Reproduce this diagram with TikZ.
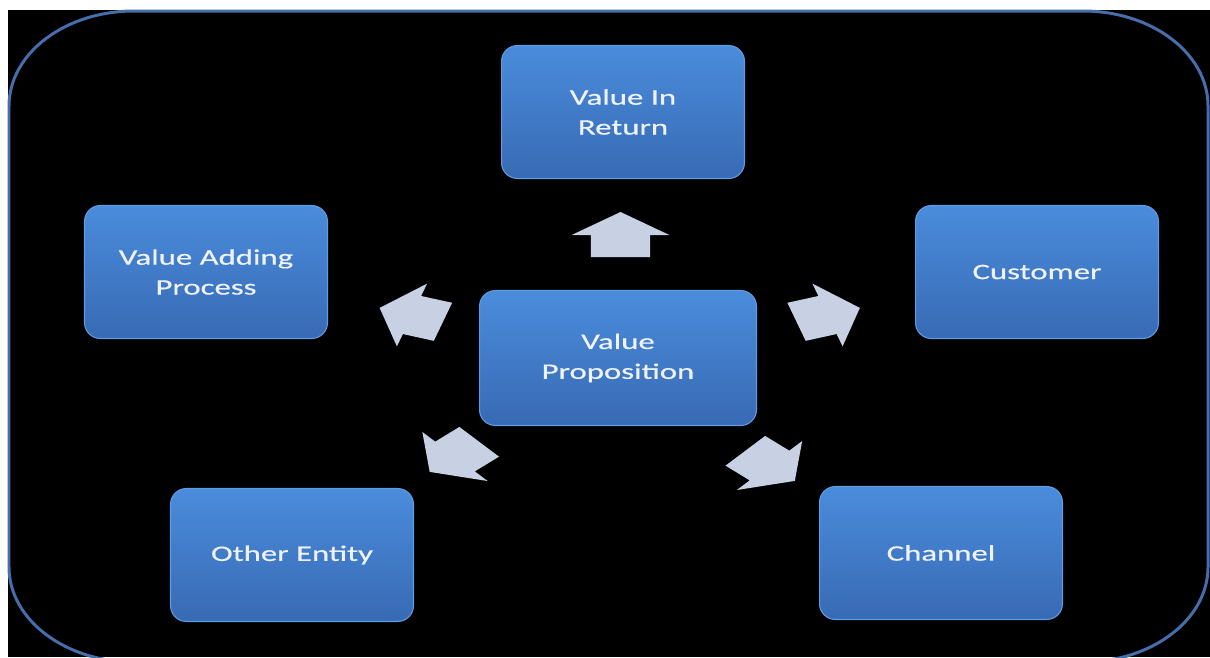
\documentclass[tikz,border=0pt]{standalone}
\usepackage{fontspec}
\setmainfont[FakeStretch=1.48]{Carlito}
\newfontfamily\boxfont[FakeStretch=1.48, FakeBold=0.5]{Carlito}
\usetikzlibrary{calc}

\definecolor{framecol}{RGB}{70,110,170}
\definecolor{boxtop}{RGB}{74,140,220}
\definecolor{boxbot}{RGB}{56,106,180}
\definecolor{boxrim}{RGB}{96,156,228}
\definecolor{arrowcol}{RGB}{200,208,228}
\definecolor{labelcol}{RGB}{238,242,250}

\tikzset{
  box/.style={rounded corners=9pt, top color=boxtop, bottom color=boxbot,
    draw=boxrim, line width=0.6pt, minimum width=4.86cm, minimum height=2.66cm,
    align=center, text=labelcol, font=\boxfont\fontsize{12.6}{17}\selectfont},
  % short fat block arrow, tip along +x, stretched sideways
  pics/blockarrow/.style={code={
    \fill[arrowcol, xscale=1.48, rotate=#1] (-22,-20) -- (0,-20) -- (0,-33)
      -- (23,0) -- (0,33) -- (0,20) -- (-22,20) -- cycle;}}
}

\begin{document}
\begin{tikzpicture}[x=0.02cm, y=-0.02cm]
    \useasboundingbox (0,0) rectangle (1210,657);
    \fill[white] (0,0) rectangle (1210,657);
    \fill[black] (8,10) rectangle (1210,657);

    % frame
    \draw[framecol, line width=1.7pt] (134,11) -- (1083,11)
        .. controls (1152,11) and (1208,53.5) .. (1208,106) -- (1208,567)
        .. controls (1208,619.5) and (1152,662) .. (1083,662) -- (134,662)
        .. controls (65,662) and (9,619.5) .. (9,567) -- (9,106)
        .. controls (9,53.5) and (65,11) .. (134,11) -- cycle;

    \node[box] (ret) at (623,112) {Value In\\Return};
    \node[box] (vap) at (206,272) {Value Adding\\Process};
    \node[box] (cust) at (1037,272) {Customer};
    \node[box, minimum width=5.54cm, minimum height=2.7cm] (prop) at (618,358) {Value\\Proposition};
    \node[box] (other) at (292,555) {Other Entity};
    \node[box] (chan) at (941,553) {Channel};

    \pic at ($(prop)!0.5!(ret)$) {blockarrow=90};
    \pic at ($(prop)!0.5!(vap)$) {blockarrow=162};
    \pic at ($(prop)!0.5!(cust)$) {blockarrow=18};
    \pic at ($(prop)!0.5!(other)$) {blockarrow=222};
    \pic at ($(prop)!0.5!(chan)+(-10,10)$) {blockarrow=318};
\end{tikzpicture}
\end{document}
